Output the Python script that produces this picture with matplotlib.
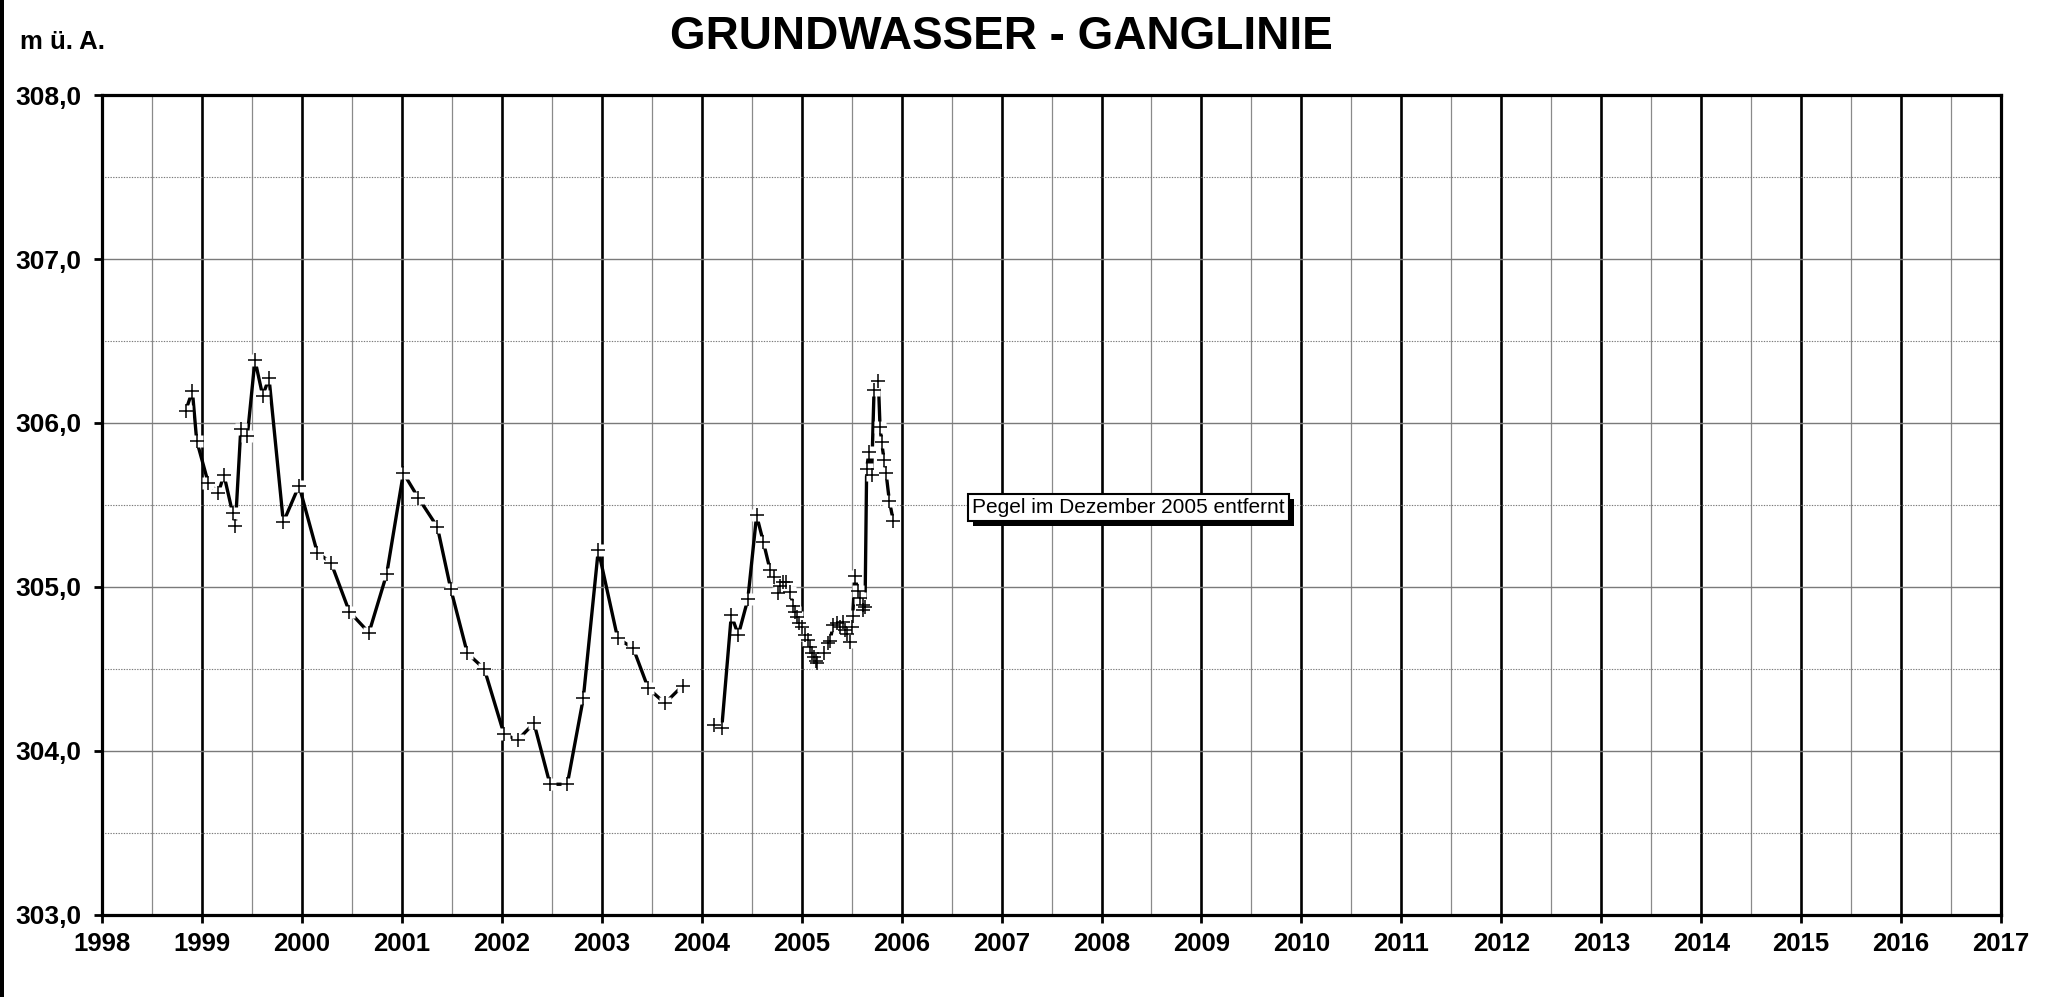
import numpy as np
import matplotlib
matplotlib.use("Agg")
import matplotlib.pyplot as plt
import matplotlib.patheffects as pe
from matplotlib.patches import Rectangle

plt.rcParams['font.family'] = ['Liberation Sans', 'DejaVu Sans']

# ---- data (decimal years, m ü. A.) ----
dates = [
    1998.837, 1998.904, 1998.947, 1999.064, 1999.164, 1999.220, 1999.307, 1999.334,
    1999.388, 1999.454, 1999.530, 1999.607, 1999.671, 1999.814, 1999.971,
    2000.154, 2000.291, 2000.474, 2000.671, 2000.848, 2001.015, 2001.165, 2001.355,
    2001.489, 2001.655, 2001.825, 2002.022, 2002.158, 2002.322, 2002.482, 2002.655,
    2002.815, 2002.965, 2003.159, 2003.315, 2003.465, 2003.632, 2003.809,
    np.nan,
    2004.126, 2004.200, 2004.296, 2004.366, 2004.461, 2004.549, 2004.616, 2004.683,
    2004.726, 2004.766, 2004.783, 2004.816, 2004.843, 2004.883, 2004.916, 2004.933,
    2004.950, 2004.973, 2005.000, 2005.034, 2005.060, 2005.083, 2005.107, 2005.124,
    2005.144, 2005.150, 2005.223, 2005.266, 2005.283, 2005.316, 2005.350, 2005.384,
    2005.410, 2005.434, 2005.457, 2005.484, 2005.500, 2005.510, 2005.534, 2005.560,
    2005.584, 2005.610, 2005.617, 2005.634, 2005.650, 2005.673, 2005.700, 2005.724,
    2005.767, 2005.784, 2005.800, 2005.824, 2005.844, 2005.877, 2005.917,
]
levels = [
    306.075, 306.195, 305.892, 305.632, 305.575, 305.683, 305.449, 305.374,
    305.962, 305.923, 306.384, 306.167, 306.273, 305.395, 305.618,
    305.209, 305.148, 304.850, 304.721, 305.079, 305.695, 305.543, 305.366,
    304.988, 304.596, 304.500, 304.102, 304.067, 304.169, 303.797, 303.797,
    304.321, 305.226, 304.687, 304.626, 304.382, 304.291, 304.398,
    np.nan,
    304.159, 304.138, 304.829, 304.707, 304.924, 305.436, 305.276, 305.106,
    305.063, 304.962, 305.006, 305.033, 305.033, 304.972, 304.884, 304.849,
    304.819, 304.779, 304.758, 304.707, 304.677, 304.636, 304.596, 304.575,
    304.551, 304.535, 304.600, 304.660, 304.671, 304.768, 304.779, 304.758,
    304.788, 304.738, 304.713, 304.667, 304.758, 304.823, 305.068, 304.976,
    304.935, 304.890, 304.860, 304.880, 305.718, 305.825, 305.683, 306.201,
    306.258, 305.974, 305.886, 305.774, 305.697, 305.525, 305.403,
]

year_ticks = list(range(1998, 2018))
year_labels = [str(y) for y in year_ticks]
level_ticks = [303, 304, 305, 306, 307, 308]
level_labels = ["303,0", "304,0", "305,0", "306,0", "307,0", "308,0"]

title = "GRUNDWASSER - GANGLINIE"
unit_label = "m ü. A."
note_text = "Pegel im Dezember 2005 entfernt"
note_pos = (2008.27, 305.485)

# ---- figure ----
fig = plt.figure(figsize=(20.49, 9.97), dpi=100)
ax = fig.add_axes([0.0498, 0.0823, 0.9268, 0.8224])

ax.set_xlim(1998, 2017)
ax.set_ylim(303, 308)

ax.set_xticks(year_ticks)
ax.set_xticklabels(year_labels)
ax.set_xticks(np.arange(1998.5, 2017, 1.0), minor=True)
ax.set_yticks(level_ticks)
ax.set_yticklabels(level_labels)
ax.set_yticks(np.arange(303.5, 308, 1.0), minor=True)

for lab in ax.get_xticklabels():
    lab.set_fontweight('bold')
    lab.set_fontsize(18.5)
for lab in ax.get_yticklabels():
    lab.set_fontweight('bold')
    lab.set_fontsize(19)

ax.tick_params(axis='x', which='major', direction='out', length=6, width=2,
               pad=6, bottom=True, top=False)
ax.tick_params(axis='y', which='major', direction='out', length=6, width=2,
               pad=9, left=True, right=False)
ax.tick_params(which='minor', length=0)

ax.set_axisbelow(True)
ax.grid(which='major', axis='x', color='black', lw=1.9)
ax.grid(which='minor', axis='x', color='#8a8a8a', lw=0.9)
ax.grid(which='major', axis='y', color='#7a7a7a', lw=1.0)
ax.grid(which='minor', axis='y', color='#7a7a7a', lw=0.8, ls=(0, (1.2, 1.2)))

for s in ax.spines.values():
    s.set_linewidth(2.3)
    s.set_color('black')

# series: line, white halo squares, plus markers
ax.plot(dates, levels, color='black', lw=2.4, zorder=3, solid_capstyle='butt')
ax.plot(dates, levels, ls='none', marker='s', ms=8.0, mfc='white', mec='none', zorder=4)
ax.plot(dates, levels, ls='none', marker='+', ms=9.5, mec='black', mew=1.1, zorder=5)

# note box with shadow
t = ax.text(note_pos[0], note_pos[1], note_text, fontsize=15, ha='center', va='center',
            zorder=6,
            bbox=dict(boxstyle='square,pad=0.2', fc='white', ec='black', lw=1.5))
t.get_bbox_patch().set_path_effects([
    pe.SimplePatchShadow(offset=(3.6, -3.6), shadow_rgbFace='black', alpha=1.0),
    pe.Normal()])

# title and unit label
fig.text(0.4885, 0.963, title, ha='center', va='center', fontsize=33, fontweight='bold')
fig.text(0.0100, 0.958, unit_label, ha='left', va='center', fontsize=18.5, fontweight='bold')

# left border line of the figure
fig.patches.append(Rectangle((0, 0), 4.0 / 2049, 1, transform=fig.transFigure,
                             fc='black', ec='none', zorder=10))

fig.savefig('out.png', dpi=100)
